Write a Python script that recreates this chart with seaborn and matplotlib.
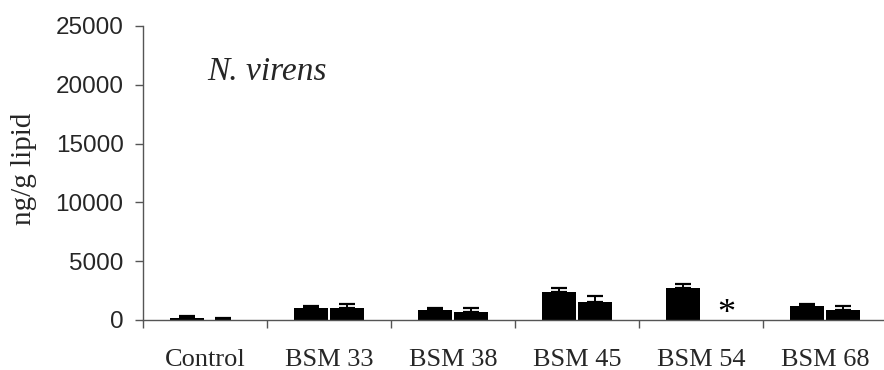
import matplotlib
matplotlib.use("Agg")
import matplotlib.pyplot as plt
import seaborn as sns
import pandas as pd
import numpy as np
from matplotlib.ticker import FixedLocator

# Mean concentration (ng/g lipid) and upper error, two series per treatment
categories = ["Control", "BSM 33", "BSM 38", "BSM 45", "BSM 54", "BSM 68"]
series_a = [200, 1050, 880, 2410, 2750, 1220]
series_b = [40, 1050, 710, 1560, np.nan, 880]
err_a = [140, 140, 140, 280, 300, 170]
err_b = [110, 310, 280, 470, np.nan, 310]
y_ticks = [0, 5000, 10000, 15000, 20000, 25000]

df = pd.DataFrame({
    "treatment": categories * 2,
    "series": ["a"] * len(categories) + ["b"] * len(categories),
    "value": series_a + series_b,
    "err": err_a + err_b,
})

sns.set_style("white")
plt.rcParams["font.family"] = ["Liberation Serif", "DejaVu Serif"]

fig = plt.figure(figsize=(8.84, 3.70), dpi=100)
ax = fig.add_axes([143 / 884, 50 / 370, 744 / 884, 294 / 370])

sns.barplot(data=df, x="treatment", y="value", hue="series",
            palette=["black", "black"], width=0.58, gap=0.06,
            errorbar=None, legend=False, saturation=1, ax=ax,
            linewidth=0, order=categories, hue_order=["a", "b"])

# Upper-only error bars, matched to each drawn bar by its position
errs = {"a": err_a, "b": err_b}
for p in ax.patches:
    h = p.get_height()
    if not np.isfinite(h):
        continue
    xc = p.get_x() + p.get_width() / 2
    cat = int(round(xc))
    key = "a" if xc < cat else "b"
    e = errs[key][cat]
    if not np.isfinite(e):
        continue
    ax.errorbar(xc, h, yerr=[[0], [e]], fmt="none",
                ecolor="black", elinewidth=1.4, capsize=5.8, capthick=1.6)

# Marker for the missing second series at BSM 54
ax.text(4.2, 450, "*", ha="center", va="center", fontsize=26,
        color="black")

ax.set_xlim(-0.5, 5.5)
ax.set_ylim(0, 25000)
ax.set_yticks(y_ticks)
ax.set_yticklabels([str(t) for t in y_ticks], family="Liberation Sans",
                   fontsize=17.5)
ax.set_xticks(range(len(categories)))
ax.set_xticklabels(categories, fontsize=19)
ax.xaxis.set_minor_locator(FixedLocator(np.arange(-0.5, 5.6, 1.0)))
ax.tick_params(axis="x", which="major", length=0, pad=21)
ax.tick_params(axis="x", which="minor", length=6, width=1, color="#555555",
               direction="out", bottom=True)
ax.tick_params(axis="y", length=6, width=1, color="#555555", direction="out",
               left=True, pad=8)
ax.set_xlabel("")
ax.set_ylabel("")

for side in ("top", "right"):
    ax.spines[side].set_visible(False)
for side in ("left", "bottom"):
    ax.spines[side].set_color("#555555")
    ax.spines[side].set_linewidth(1)

fig.text(24 / 884, 1 - 169 / 370, "ng/g lipid", rotation=90, ha="center",
         va="center", fontsize=21)
ax.text(0.086, 0.816, "N. virens", transform=ax.transAxes, fontsize=24,
        style="italic", ha="left", va="baseline")

fig.savefig("out.png", dpi=100)
